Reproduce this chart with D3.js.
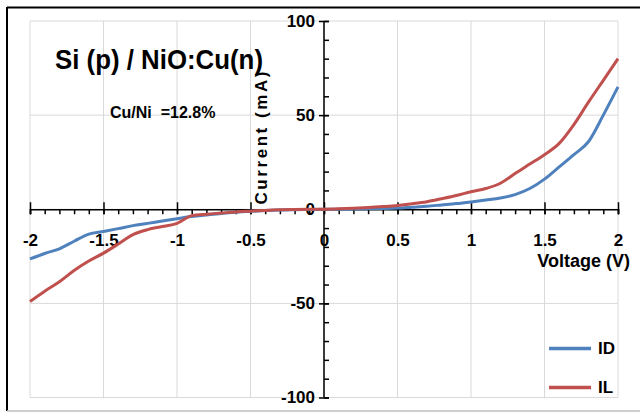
<!DOCTYPE html>
<html>
<head>
<meta charset="utf-8">
<script src="https://cdn.jsdelivr.net/npm/d3@7"></script>
<style>
  body { margin: 0; background: #fff; }
  svg text { font-family: "Liberation Sans", Arial, sans-serif; font-weight: bold; fill: #000; }
</style>
</head>
<body>
<div id="chart"></div>
<script>
// voltage steps (V)
const voltage = [-2, -1.9, -1.8, -1.7, -1.6, -1.5, -1.4, -1.3, -1.2, -1.1, -1, -0.9, -0.8, -0.7, -0.6, -0.5, -0.4, -0.3, -0.2, -0.1,
  0, 0.1, 0.2, 0.3, 0.4, 0.5, 0.6, 0.7, 0.8, 0.9, 1, 1.1, 1.2, 1.3, 1.4, 1.5, 1.6, 1.7, 1.8, 1.9, 2];
// dark current (mA)
const currentID = [-26.4, -23.5, -21, -17, -13.2, -11.8, -10.3, -8.7, -7.5, -6.2, -5, -3.9, -3, -2.3, -1.6, -1.1, -0.7, -0.4, -0.2, -0.1,
  0, 0.05, 0.1, 0.2, 0.35, 0.6, 1.1, 1.6, 2.3, 3, 3.9, 4.9, 6, 7.8, 11, 16, 22.5, 29, 36, 50, 65];
// light current (mA)
const currentIL = [-49, -43.5, -38.5, -32.5, -27.5, -23.3, -18.5, -13.5, -10.8, -9.2, -7.5, -3.4, -2.6, -2, -1.4, -1, -0.6, -0.3, -0.15, -0.05,
  0, 0.2, 0.5, 0.9, 1.4, 2, 2.9, 4, 5.6, 7.3, 9.3, 11, 13.8, 19, 24, 29, 35, 45, 57, 68.5, 80];

const xMajor = [-2, -1.5, -1, -0.5, 0, 0.5, 1, 1.5, 2];
const xLabels = ['-2', '-1.5', '-1', '-0.5', '0', '0.5', '1', '1.5', '2'];
const yMajor = [-100, -50, 0, 50, 100];
const yLabels = ['-100', '-50', '0', '50', '100'];
const xMinor = d3.range(-20, 21).map(d => d / 10);
const yMinor = d3.range(-10, 11).map(d => d * 10);

const series = [
  { name: 'ID', values: currentID, color: '#4f81bd' },
  { name: 'IL', values: currentIL, color: '#c0504d' }
];

const width = 640, height = 412;

const svg = d3.select('#chart')
  .append('svg')
  .attr('width', width)
  .attr('height', height);

// outer chart frame
svg.append('line').attr('x1', 7).attr('x2', width).attr('y1', 7.5).attr('y2', 7.5)
  .attr('stroke', '#000').attr('stroke-width', 2);
svg.append('line').attr('x1', 7).attr('x2', 7).attr('y1', 7).attr('y2', 411)
  .attr('stroke', '#000').attr('stroke-width', 2);
svg.append('line').attr('x1', 7).attr('x2', width).attr('y1', 411).attr('y2', 411)
  .attr('stroke', '#bfbfbf').attr('stroke-width', 1.5);

const x = d3.scaleLinear().domain([-2, 2]).range([30, 618]);
const y = d3.scaleLinear().domain([-100, 100]).range([397.5, 21]);

// gridlines
const grid = svg.append('g').attr('stroke', '#d9d9d9').attr('stroke-width', 1);
grid.selectAll('.gx').data(xMajor).enter().append('line')
  .attr('x1', d => x(d)).attr('x2', d => x(d))
  .attr('y1', y(100)).attr('y2', y(-100));
grid.selectAll('.gy').data(yMajor).enter().append('line')
  .attr('x1', x(-2)).attr('x2', x(2))
  .attr('y1', d => y(d)).attr('y2', d => y(d));

// x axis through I = 0
const xAxisG = svg.append('g').attr('transform', 'translate(0,' + y(0) + ')');
xAxisG.append('g')
  .call(d3.axisBottom(x).tickValues(xMinor).tickSize(5).tickFormat(''))
  .call(g => g.select('.domain').remove());
xAxisG.append('g')
  .call(d3.axisBottom(x).tickValues(xMajor).tickSize(5).tickFormat((d, i) => xLabels[i]))
  .call(g => g.select('.domain').attr('stroke-width', 1.5))
  .call(g => g.selectAll('.tick line').attr('y1', -7).attr('y2', 5))
  .call(g => g.selectAll('.tick text').attr('y', 31).attr('dy', '0.35em').style('font-size', '17px'));
xAxisG.selectAll('line').attr('stroke', '#000').attr('stroke-width', 1.5);

// y axis through V = 0
const yAxisG = svg.append('g').attr('transform', 'translate(' + x(0) + ',0)');
yAxisG.append('g')
  .call(d3.axisRight(y).tickValues(yMinor).tickSize(5).tickFormat(''))
  .call(g => g.select('.domain').remove());
yAxisG.append('g')
  .call(d3.axisLeft(y).tickValues(yMajor).tickSize(5).tickFormat((d, i) => yLabels[i]))
  .call(g => g.select('.domain').attr('stroke-width', 1.5).attr('d', 'M0,' + y(100) + 'V' + y(-100)))
  .call(g => g.selectAll('.tick line').attr('x1', 5).attr('x2', -5))
  .call(g => g.selectAll('.tick text').attr('x', -9).style('font-size', '17px'));
yAxisG.selectAll('line').attr('stroke', '#000').attr('stroke-width', 1.5);

// curves
const line = d3.line()
  .x((d, i) => x(voltage[i]))
  .y(d => y(d))
  .curve(d3.curveMonotoneX);

svg.selectAll('.series')
  .data(series)
  .enter()
  .append('path')
  .attr('class', 'series')
  .attr('fill', 'none')
  .attr('stroke', d => d.color)
  .attr('stroke-width', 3)
  .attr('stroke-linejoin', 'round')
  .attr('d', d => line(d.values));

// axis titles
svg.append('text')
  .attr('transform', 'translate(267,138) rotate(-90)')
  .attr('text-anchor', 'middle')
  .attr('textLength', 133)
  .attr('lengthAdjust', 'spacing')
  .style('font-size', '17px')
  .text('Current (mA)');

svg.append('text')
  .attr('x', 630).attr('y', 267)
  .attr('text-anchor', 'end')
  .style('font-size', '18px')
  .text('Voltage (V)');

// title and note
svg.append('text')
  .attr('x', 55).attr('y', 69)
  .attr('textLength', 208)
  .attr('lengthAdjust', 'spacingAndGlyphs')
  .style('font-size', '28px')
  .text('Si (p) / NiO:Cu(n)');

svg.append('text')
  .attr('x', 110).attr('y', 118)
  .style('font-size', '16px')
  .style('white-space', 'pre')
  .text('Cu/Ni  =12.8%');

// legend
const legend = svg.selectAll('.legend')
  .data(series)
  .enter()
  .append('g')
  .attr('class', 'legend')
  .attr('transform', (d, i) => 'translate(549,' + (348.5 + i * 39) + ')');

legend.append('line')
  .attr('x1', 0).attr('x2', 42)
  .attr('stroke', d => d.color)
  .attr('stroke-width', 3.5);

legend.append('text')
  .attr('x', 49).attr('dy', '0.35em')
  .style('font-size', '17px')
  .text(d => d.name);
</script>
</body>
</html>
